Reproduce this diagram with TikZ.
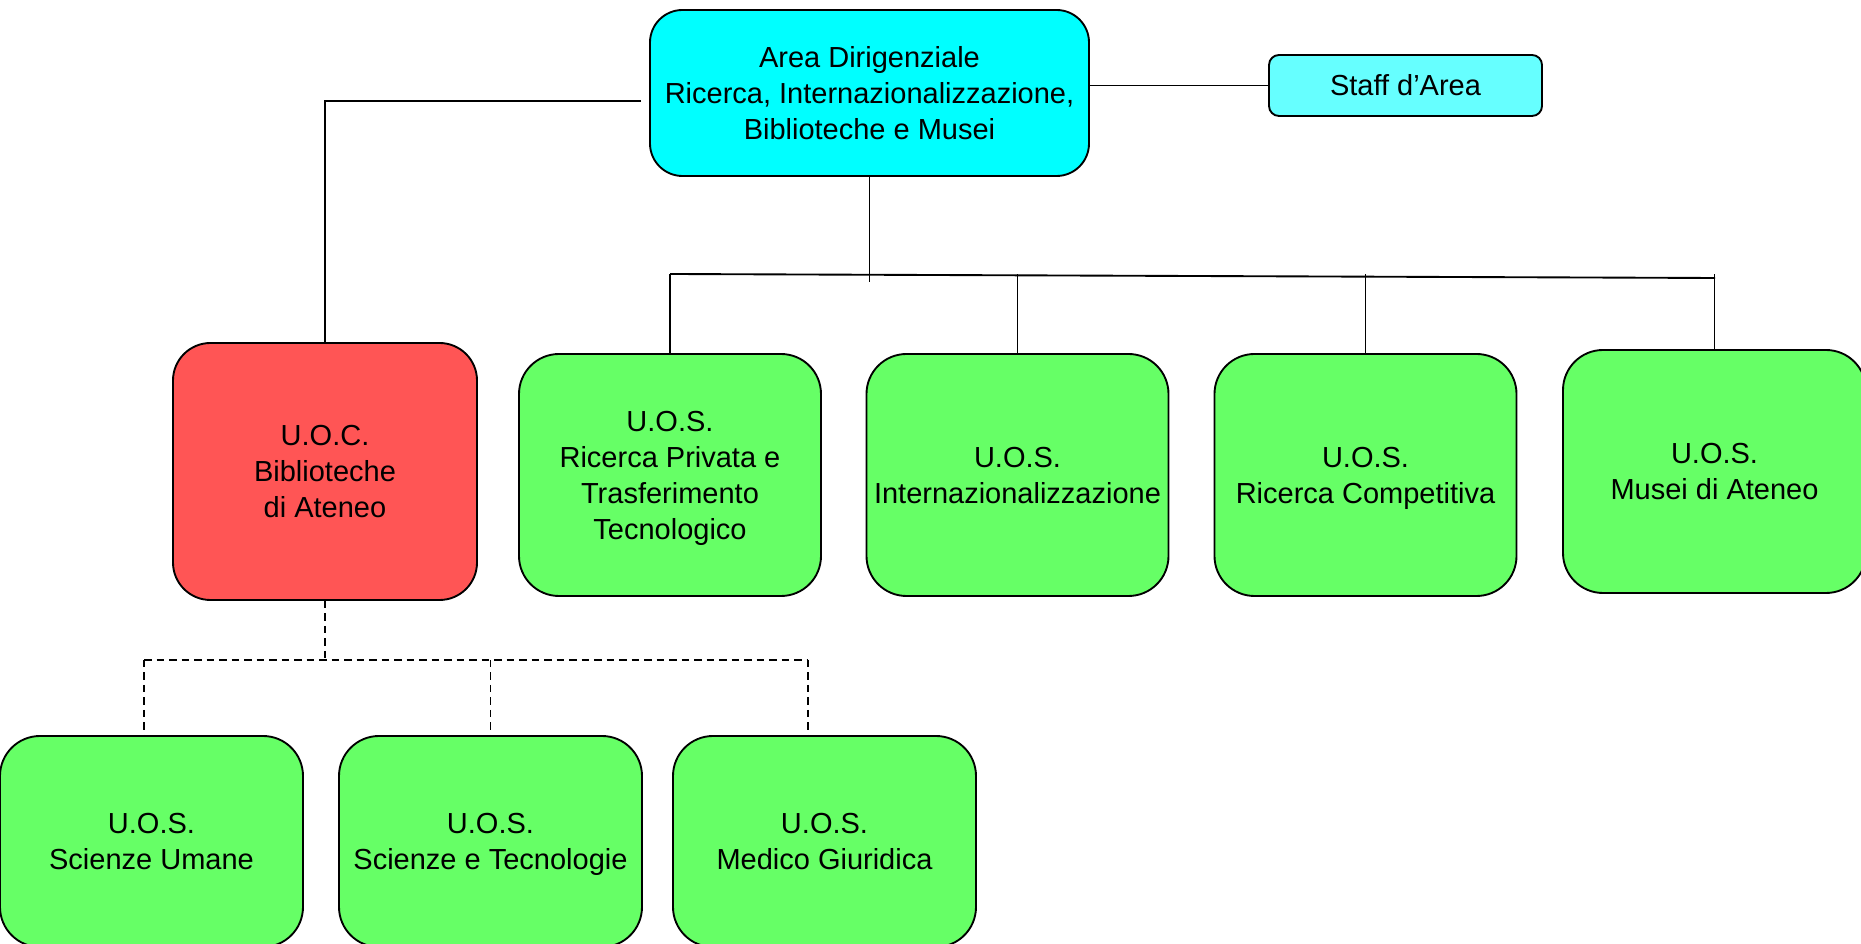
\documentclass[tikz,border=0pt]{standalone}
\usepackage{fontspec}
\setmainfont{Liberation Sans}
\usetikzlibrary{positioning}
\definecolor{areacyan}{HTML}{00FFFF}
\definecolor{staffcyan}{HTML}{66FFFF}
\definecolor{uocred}{HTML}{FF5555}
\definecolor{uosgreen}{HTML}{66FF66}

\begin{document}
\begin{tikzpicture}[x=0.4pt,y=-0.4pt,line width=0.75pt,
  box/.style={draw,line width=0.75pt,align=center,inner sep=2pt,text depth=0pt,font=\fontsize{11.6}{14.4}\selectfont},
  uos/.style={box,fill=uosgreen,rounded corners=16pt,minimum width=120.8pt,minimum height=96.8pt},
  uosbottom/.style={uos,minimum width=121.2pt,minimum height=84.4pt},
  link/.style={dash pattern=on 3pt off 2pt}]
 \useasboundingbox (0,0) rectangle (1861,944);
 \node[box,fill=areacyan,rounded corners=13pt,minimum width=175.6pt,minimum height=66.4pt] (area) at (869.5,93) {Area Dirigenziale\\Ricerca, Internazionalizzazione,\\Biblioteche e Musei};
 \node[box,fill=staffcyan,rounded corners=4pt,minimum width=109.2pt,minimum height=24.4pt] (staff) at (1405.5,85.5) {Staff d’Area};
 \node[box,fill=uocred,rounded corners=15pt,minimum width=121.6pt,minimum height=102.8pt] (uoc) at (325,471.5) {U.O.C.\\Biblioteche\\di Ateneo};
 \node[uos] (ricpriv) at (670,475) {U.O.S.\\Ricerca Privata e\\Trasferimento\\Tecnologico};
 \node[uos] (internaz) at (1017.5,475) {U.O.S.\\Internazionalizzazione};
 \node[uos] (riccomp) at (1365.5,475) {U.O.S.\\Ricerca Competitiva};
 \node[uos,minimum width=121.2pt,minimum height=97.2pt] (musei) at (1714.5,471.5) {U.O.S.\\Musei di Ateneo};
 \node[uosbottom] (umane) at (151.5,841.5) {U.O.S.\\Scienze Umane};
 \node[uosbottom] (scitec) at (490.5,841.5) {U.O.S.\\Scienze e Tecnologie};
 \node[uosbottom] (medgiur) at (824.5,841.5) {U.O.S.\\Medico Giuridica};
 \coordinate (busL) at (670,274);
 \coordinate (busR) at (1715,278);
 \coordinate (busC) at (869.5,282);
 \coordinate (libL) at (144,660);
 \coordinate (libR) at (808,660);
 \draw ([xshift=-3.2pt,yshift=-3.2pt]area.west) -| (uoc.north);
 \draw (area.east |- staff) -- (staff.west);
 \draw (area.south) -- (busC);
 \draw (busL) -- (busR);
 \draw (ricpriv.north) -- (ricpriv.north |- busL);
 \draw (internaz.north) -- (internaz.north |- busL);
 \draw (riccomp.north) -- (riccomp.north |- busL);
 \draw (musei.north) -- (musei.north |- busL);
 \draw[link] (uoc.south) -- (uoc.south |- libL);
 \draw[link] (libL) -- (libR);
 \draw[link] (libL) -- (libL |- umane.north);
 \draw[link] (scitec.north |- libL) -- (scitec.north);
 \draw[link] (libR) -- (libR |- medgiur.north);
\end{tikzpicture}
\end{document}
